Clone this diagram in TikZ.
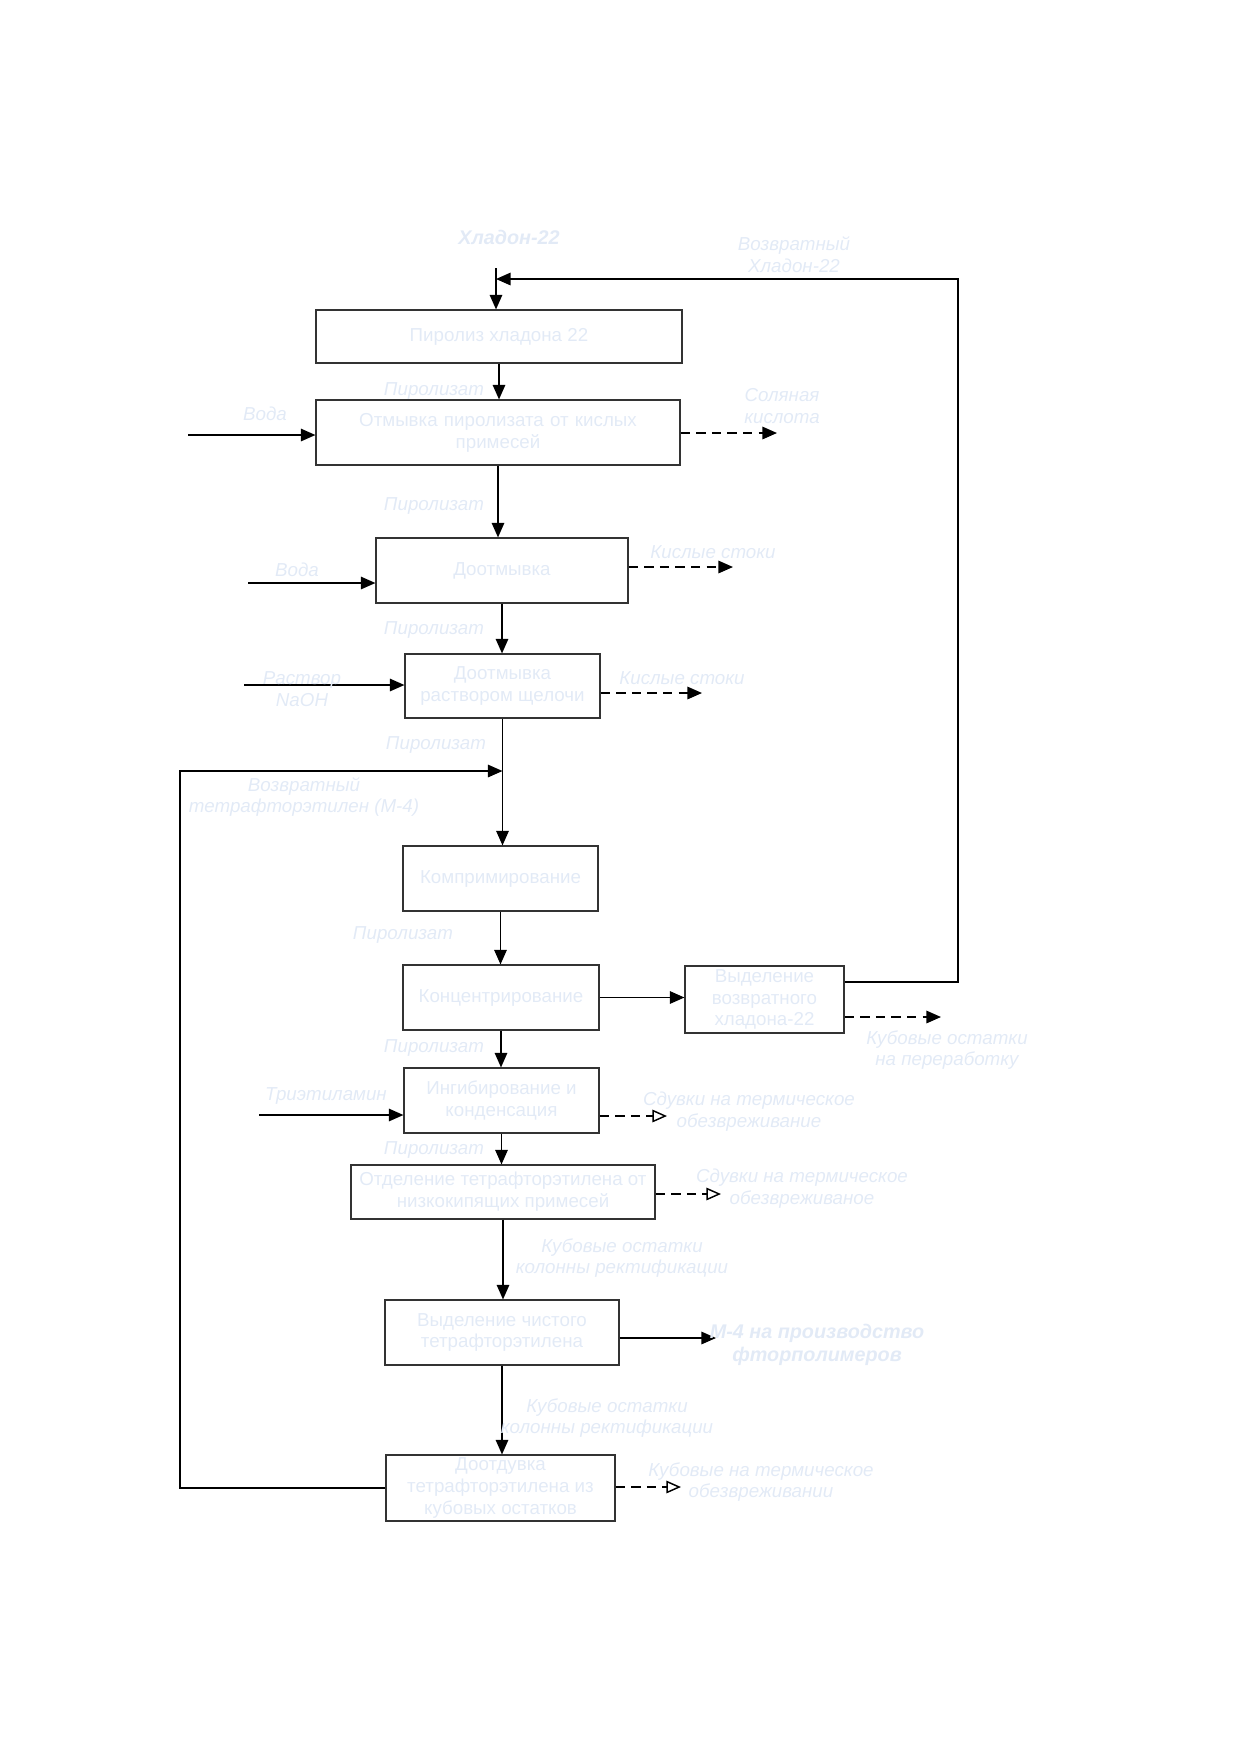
\documentclass[tikz,border=0pt]{standalone}
\usepackage{fontspec}
\setmainfont{Liberation Sans}
\usetikzlibrary{arrows.meta}
\definecolor{txt}{HTML}{E2EAF6}
\def\u{0.48pt}
\tikzset{
  box/.style={draw=black!80, line width=0.55pt, align=center, text=txt, font=\fontsize{9}{10.5}\selectfont, inner sep=1pt},
  lbl/.style={text=txt, font=\fontsize{9}{10.5}\selectfont\itshape, align=center, inner sep=0pt},
  blbl/.style={text=txt, font=\fontsize{9.5}{11}\selectfont\bfseries\itshape, align=center, inner sep=0pt},
  arr/.style={line width=0.7pt, -{Triangle[length=7pt,width=6pt]}},
  oarr/.style={line width=0.7pt, dash pattern=on 4.5pt off 3pt, -{Triangle[open,length=7pt,width=6pt,fill=white]}},
  darr/.style={line width=0.7pt, dash pattern=on 4.5pt off 3pt, -{Triangle[length=7pt,width=6pt]}},
  ln/.style={line width=0.7pt}
}
\begin{document}
\begin{tikzpicture}[x=\u,y=-\u]
\useasboundingbox (0,0) rectangle (1240,1754);
% boxes
\node[box, minimum width=366*\u, minimum height=53*\u] (b1) at (499,336.5) {Пиролиз хладона 22};
\node[box, minimum width=364*\u, minimum height=65*\u, text width=345*\u] (b2) at (498,432.5) {Отмывка пиролизата от кислых\\примесей};
\node[box, minimum width=252*\u, minimum height=65*\u] (b3) at (502,570.5) {Доотмывка};
\node[box, minimum width=195*\u, minimum height=64*\u] (b4) at (502.5,686) {Доотмывка\\раствором щелочи};
\node[box, minimum width=195*\u, minimum height=65*\u] (b5) at (500.5,878.5) {Компримирование};
\node[box, minimum width=196*\u, minimum height=65*\u] (b6) at (501,997.5) {Концентрирование};
\node[box, minimum width=159*\u, minimum height=67*\u] (bR) at (764.5,999.5) {Выделение\\возвратного\\хладона-22};
\node[box, minimum width=195*\u, minimum height=65*\u] (b7) at (501.5,1100.5) {Ингибирование и\\конденсация};
\node[box, minimum width=304*\u, minimum height=54*\u] (b8) at (503,1192) {Отделение тетрафторэтилена от\\низкокипящих примесей};
\node[box, minimum width=234*\u, minimum height=65*\u] (b9) at (502,1332.5) {Выделение чистого\\тетрафторэтилена};
\node[box, minimum width=229*\u, minimum height=66*\u] (b10) at (500.5,1488) {Доотдувка\\тетрафторэтилена из\\кубовых остатков};
% coordinates
\coordinate (h22) at (496,268);
\coordinate (r1) at (958,982);
\coordinate (r2) at (958,279);
\coordinate (w1) at (188,435);
\coordinate (w2) at (248,583);
\coordinate (w3) at (244,685);
\coordinate (w4) at (259,1115);
\coordinate (o1) at (777,433);
\coordinate (o2) at (733,567);
\coordinate (o3) at (702,693);
\coordinate (o4) at (941,1017);
\coordinate (o5) at (667,1116);
\coordinate (o6) at (721,1194);
\coordinate (o7) at (716,1338);
\coordinate (o8) at (681,1487);
\coordinate (m1) at (180,1488);
\coordinate (m2) at (180,771);
% main flow
\draw[arr] (h22) -- (h22 |- b1.north);
\draw[arr] (b1.south) -- (b1.south |- b2.north);
\draw[arr] (b2.south) -- (b2.south |- b3.north);
\draw[arr] (b3.south) -- (b3.south |- b4.north);
\draw[arr] (b4.south) -- (b4.south |- b5.north);
\draw[arr] (b5.south) -- (b5.south |- b6.north);
\draw[arr] (b6.south) -- (b6.south |- b7.north);
\draw[arr] (b7.south) -- (b7.south |- b8.north);
\draw[arr] (b8.south) -- (b8.south |- b9.north);
\draw[arr] (b9.south) -- (b9.south |- b10.north);
\draw[arr] (b6.east) -- (b6.east -| bR.west);
% returns
\draw[arr] (bR.east |- r1) -- (r1) -- (r2) -- (r2 -| h22);
\draw[arr] (b10.west |- m1) -- (m1) -- (m2) -- (m2 -| b4.south);
% inputs
\draw[arr] (w1) -- (w1 -| b2.west);
\draw[arr] (w2) -- (w2 -| b3.west);
\draw[arr] (w3) -- (w3 -| b4.west);
\draw[arr] (w4) -- (w4 -| b7.west);
% outputs
\draw[darr] (o1 -| b2.east) -- (o1);
\draw[darr] (o2 -| b3.east) -- (o2);
\draw[darr] (o3 -| b4.east) -- (o3);
\draw[darr] (o4 -| bR.east) -- (o4);
\draw[oarr] (o5 -| b7.east) -- (o5);
\draw[oarr] (o6 -| b8.east) -- (o6);
\draw[arr] (o7 -| b9.east) -- (o7);
\draw[oarr] (o8 -| b10.east) -- (o8);
% labels
\node[blbl] (t1) at (509,237) {Хладон-22};
\node[lbl] (t2) at (794,255) {Возвратный\\Хладон-22};
\node[lbl] (t3) at (434,391) {Пиролизат};
\node[lbl] (t4) at (265,414) {Вода};
\node[lbl] (t5) at (782,406) {Соляная\\кислота};
\node[lbl] (t6) at (434,506) {Пиролизат};
\node[lbl] (t7) at (297,570) {Вода};
\node[lbl] (t8) at (713,552) {Кислые стоки};
\node[lbl] (t9) at (434,630) {Пиролизат};
\node[lbl] (t10) at (302,689) {Раствор\\NaOH};
\node[lbl] (t11) at (682,678) {Кислые стоки};
\node[lbl] (t12) at (436,745) {Пиролизат};
\node[lbl] (t13) at (304,797) {Возвратный\\тетрафторэтилен (М-4)};
\node[lbl] (t14) at (403,935) {Пиролизат};
\node[lbl] (t15) at (947,1050) {Кубовые остатки\\на переработку};
\node[lbl] (t16) at (434,1048) {Пиролизат};
\node[lbl] (t17) at (326,1096) {Триэтиламин};
\node[lbl] (t18) at (749,1112) {Сдувки на термическое\\обезвреживание};
\node[lbl] (t19) at (434,1150) {Пиролизат};
\node[lbl] (t20) at (802,1189) {Сдувки на термическое\\обезвреживаное};
\node[lbl] (t21) at (622,1258) {Кубовые остатки\\колонны ректификации};
\node[blbl] (t22) at (817,1345) {М-4 на производство\\фторполимеров};
\node[lbl] (t23) at (607,1418) {Кубовые остатки\\колонны ректификации};
\node[lbl] (t24) at (761,1482) {Кубовые на термическое\\обезвреживании};
\end{tikzpicture}
\end{document}
